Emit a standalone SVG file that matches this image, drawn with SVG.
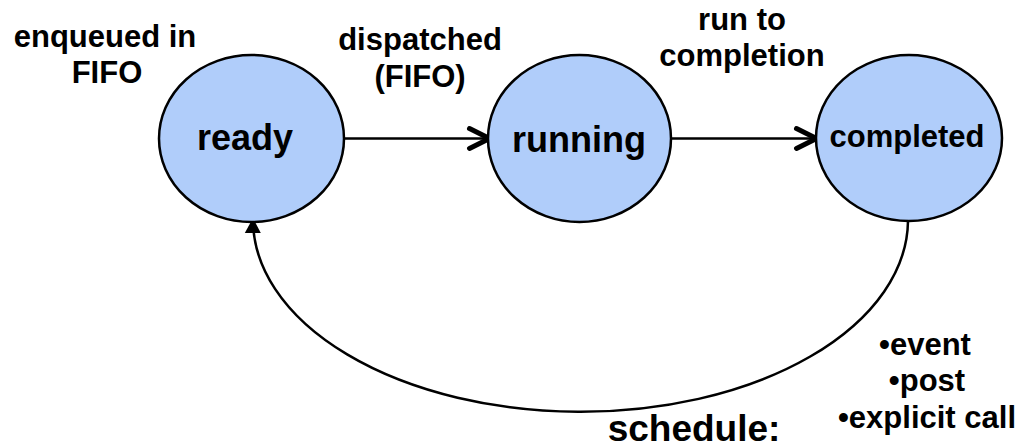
<svg xmlns="http://www.w3.org/2000/svg" width="1021" height="447" viewBox="0 0 1021 447">
<style>
.node{fill:#b0cdfa;stroke:#000;stroke-width:2.5}
.lbl{font-family:"Liberation Sans",Arial,Helvetica,sans-serif;font-weight:bold;fill:#000;text-anchor:middle}
.edge{fill:none;stroke:#000;stroke-width:2.5}
</style>
<defs>
<marker id="open" viewBox="0 0 28 28" refX="24" refY="14" markerWidth="28" markerHeight="28" markerUnits="userSpaceOnUse" orient="auto">
<path d="M3.5 4 L23.5 14 L3.5 24" fill="none" stroke="#000" stroke-width="5" stroke-linecap="round" stroke-linejoin="round"/>
</marker>
<marker id="solid" viewBox="0 0 20 20" refX="17" refY="10" markerWidth="20" markerHeight="20" markerUnits="userSpaceOnUse" orient="auto">
<path d="M2 2 L17 10 L2 18 Z" fill="#000"/>
</marker>
</defs>
<g id="connectors">
<line class="edge" x1="344" y1="138.5" x2="490" y2="138.5" marker-end="url(#open)"/>
<line class="edge" x1="671" y1="138.5" x2="817" y2="138.5" marker-end="url(#open)"/>
<path class="edge" d="M908 221 A327 192 0 0 1 253 218" marker-end="url(#solid)"/>
</g>
<g id="ready">
<ellipse class="node" cx="251.5" cy="138.5" rx="92.5" ry="83.5"/>
<text class="lbl" x="245" y="150" font-size="36">ready</text>
</g>
<g id="running">
<ellipse class="node" cx="579.5" cy="138.5" rx="91.5" ry="83.5"/>
<text class="lbl" x="579" y="152" font-size="36">running</text>
</g>
<g id="completed">
<ellipse class="node" cx="909" cy="138" rx="93" ry="83"/>
<text class="lbl" x="907" y="147" font-size="31">completed</text>
</g>
<g id="labels">
<text class="lbl" x="105" y="47" font-size="31">enqueued in</text>
<text class="lbl" x="107" y="83" font-size="31">FIFO</text>
<text class="lbl" x="420" y="50" font-size="31">dispatched</text>
<text class="lbl" x="420" y="87" font-size="31">(FIFO)</text>
<text class="lbl" x="742" y="30" font-size="31">run to</text>
<text class="lbl" x="742" y="66" font-size="31">completion</text>
<text class="lbl" x="925" y="355" font-size="31">•event</text>
<text class="lbl" x="927" y="391" font-size="31">•post</text>
<text class="lbl" x="927" y="428" font-size="31">•explicit call</text>
<text class="lbl" x="694" y="441" font-size="37">schedule:</text>
</g>
</svg>
